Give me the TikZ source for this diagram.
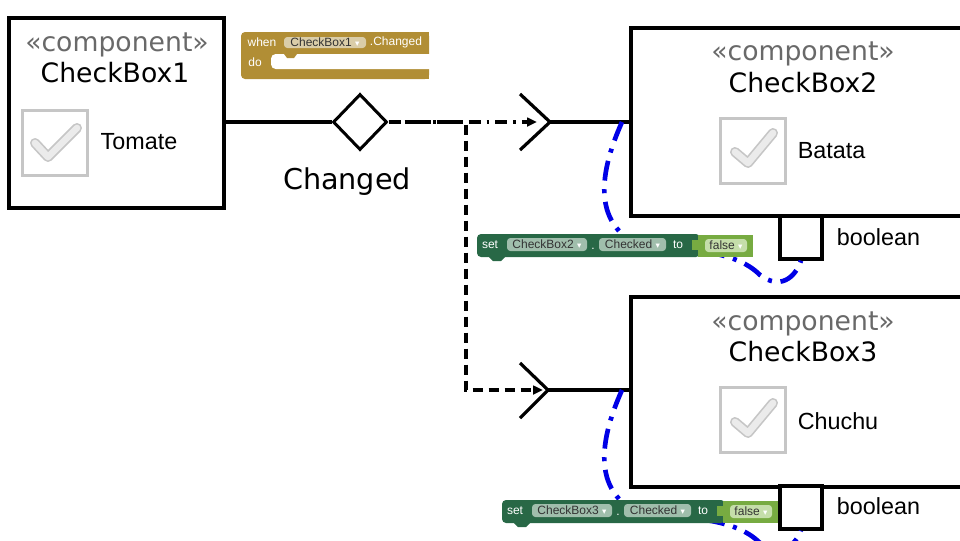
\documentclass[tikz,border=0pt]{standalone}
\usepackage{fontspec}
\setmainfont{Liberation Sans}
\newfontfamily\umlfont{DejaVu Sans}
\usetikzlibrary{shapes.geometric,arrows.meta}

\definecolor{stereogray}{RGB}{105,105,105}
\definecolor{evtcol}{RGB}{177,142,53}
\definecolor{evtfld}{RGB}{218,205,168}
\definecolor{setcol}{RGB}{40,104,70}
\definecolor{setfld}{RGB}{160,190,172}
\definecolor{logcol}{RGB}{119,171,65}
\definecolor{logfld}{RGB}{197,222,170}
\definecolor{flowblue}{RGB}{0,0,230}

\newcommand{\dropmark}{{\umlfont\fontsize{6.5}{6.5}\selectfont\color{white}▾}}

\tikzset{every picture/.style={line width=0.75pt},
  compbox/.style={draw, fill=white, line width=2.5pt, inner sep=0pt},
  portbox/.style={draw, fill=white, line width=2.5pt, minimum width=31.5pt, minimum height=32.25pt, inner sep=0pt},
  stereo/.style={text=stereogray, font=\umlfont\fontsize{20}{24}\selectfont},
  compname/.style={font=\umlfont\fontsize{20}{24}\selectfont},
  evtlabel/.style={font=\umlfont\fontsize{21.5}{26}\selectfont},
  caption/.style={font=\fontsize{17.5}{21}\selectfont},
  chkbox/.style={draw=gray!45, fill=white, line width=2.25pt, minimum size=48.75pt, inner sep=0pt},
  tickouter/.style={draw=gray!45, line width=7.5pt, line cap=round, line join=round},
  tickinner/.style={draw=gray!16, line width=5pt, line cap=round, line join=round},
  eventnode/.style={draw, diamond, fill=white, line width=2.25pt, minimum width=40.5pt, minimum height=42pt, inner sep=0pt},
  link/.style={line width=2.4pt},
  plug/.style={line width=2.4pt, line join=miter},
  dashdotline/.style={line width=2.4pt, dash pattern=on 9pt off 4.5pt on 2pt off 4.5pt, -{Triangle[length=7.5pt,width=6.5pt]}},
  dashline/.style={line width=2.4pt, dash pattern=on 7.5pt off 4.5pt, -{Triangle[length=7.5pt,width=6.5pt]}},
  setflow/.style={draw=flowblue, line width=3.5pt, dash pattern=on 15pt off 6.5pt on 3pt off 6.5pt},
  blocktext/.style={text=white, font=\fontsize{9}{10}\selectfont, inner sep=0pt},
  fld/.style={rounded corners=2.5pt, inner sep=0pt, minimum height=9.75pt, text=black!80, font=\fontsize{9}{10}\selectfont}
}

\begin{document}
\begin{tikzpicture}[x=0.75pt,y=0.75pt,yscale=-1,xscale=1]
	\useasboundingbox (0,0) rectangle (960,540);

	% Components
	\node[compbox, minimum width=161.25pt, minimum height=142.5pt] (cb1) at (116.5,113) {};
	\node[compbox, minimum width=277.5pt, minimum height=141pt] (cb2) at (816,122) {};
	\node[compbox, minimum width=277.5pt, minimum height=142.5pt] (cb3) at (816,392) {};
	% Ports
	\node[portbox] (p2) at (801,237.5) {};
	\node[portbox] (p3) at (801,507.5) {};

	% Text Node
	\node[stereo] (st1) at (117,44.5) {«component»};
	\node[compname] (nm1) at (115,72.5) {CheckBox1};
	\node[caption] (lb1) at (139,141.5) {Tomate};
	\node[stereo] (st2) at (803,54) {«component»};
	\node[compname] (nm2) at (803,82.5) {CheckBox2};
	\node[caption] (lb2) at (831.5,151) {Batata};
	\node[stereo] (st3) at (803,323.5) {«component»};
	\node[compname] (nm3) at (803,351.5) {CheckBox3};
	\node[caption] (lb3) at (838,421) {Chuchu};
	\node[caption] (bl2) at (878.5,237) {boolean};
	\node[caption] (bl3) at (878.5,506.5) {boolean};

	% Check box icons
	\node[chkbox] (ck1) at (54.5,142.5) {};
	\draw[tickouter] (35,143) -- (48,157) -- (77,128);
	\draw[tickinner] (35,143) -- (48,157) -- (77,128);
	\node[chkbox] (ck2) at (753,150.5) {};
	\draw[tickouter] (735,152) -- (748,163) -- (773,133);
	\draw[tickinner] (735,152) -- (748,163) -- (773,133);
	\node[chkbox] (ck3) at (753,420) {};
	\draw[tickouter] (735,422) -- (748,433) -- (773,403);
	\draw[tickinner] (735,422) -- (748,433) -- (773,403);

	% Event
	\node[eventnode] (chg) at (360,122) {};
	\node[evtlabel] (chgl) at (347,182) {Changed};
	\draw[link] (chg.west -| cb1.east) -- (chg.west);

	% Required interfaces
	\coordinate (v2) at (550,122);
	\coordinate (v3) at (548,390);
	\draw[plug] (520,94) -- (v2) -- (520,150);
	\draw[plug] (520,363) -- (v3) -- (520,418);
	\draw[link] (v2) -- (v2 -| cb2.west);
	\draw[link] (v3) -- (v3 -| cb3.west);

	% Flows
	\coordinate (fork) at (466,122);
	\coordinate (a2) at (537,122);
	\coordinate (a3) at (543,390);
	\draw[dashdotline] (chg.east) -- (a2);
	\draw[dashline] (chg.east) -- (fork) |- (a3);

	% Setter arcs
	\coordinate (s2) at (622,122);
	\coordinate (s3) at (622,390);
	\draw[setflow] (s2) .. controls (596,180) and (596,225) .. (640,246) .. controls (690,250) and (735,250) .. (760,275) .. controls (780,290) and (795,278) .. (p2.south);
	\draw[setflow] (s3) .. controls (596,448) and (596,493) .. (640,514) .. controls (690,518) and (735,518) .. (760,543) .. controls (780,558) and (795,546) .. (p3.south);

	% Block: when
	\fill[evtcol, rounded corners=3pt] (241,32) rectangle (429,79);
	\fill[evtcol] (420,32) rectangle (429,79);
	\fill[white, rounded corners=3.5pt] (271,54) rectangle (436,69);
	\fill[evtcol] (284,54) -- (287,58) -- (294,58) -- (297,54) -- cycle;
	\node[blocktext] (wh) at (262,42) {when};
	\node[fld, fill=evtfld, minimum width=61.5pt, minimum height=8.25pt] (wf) at (325,42.5) {CheckBox1 \dropmark};
	\node[blocktext] (wc) at (396,42) {.Changed};
	\node[blocktext] (wd) at (255,62) {do};

	% Block: set CheckBox2
	\fill[setcol, rounded corners=3pt] (477,234) rectangle (700,257);
	\fill[setcol] (489,257) -- (493,261) -- (501,261) -- (505,257) -- cycle;
	\fill[logcol] (698,235) rectangle (753,257);
	\fill[logcol] (692,240) rectangle (699,250);
	\node[blocktext] (ss2) at (490,245) {set};
	\node[fld, fill=setfld, minimum width=60pt] (sf2) at (547,244.5) {CheckBox2 \dropmark};
	\node[blocktext] (sd2) at (593,249) {.};
	\node[fld, fill=setfld, minimum width=50.25pt] (sp2) at (632.5,244.5) {Checked \dropmark};
	\node[blocktext] (st2b) at (678,245) {to};
	\node[fld, fill=logfld, minimum width=31.5pt] (sv2) at (726,245.5) {false \dropmark};

	% Block: set CheckBox3
	\fill[setcol, rounded corners=3pt] (502,500) rectangle (725,523);
	\fill[setcol] (514,523) -- (518,527) -- (526,527) -- (530,523) -- cycle;
	\fill[logcol] (723,501) rectangle (778,523);
	\fill[logcol] (717,506) rectangle (724,516);
	\node[blocktext] (ss3) at (515,511) {set};
	\node[fld, fill=setfld, minimum width=60pt] (sf3) at (572,510.5) {CheckBox3 \dropmark};
	\node[blocktext] (sd3) at (618,515) {.};
	\node[fld, fill=setfld, minimum width=50.25pt] (sp3) at (657.5,510.5) {Checked \dropmark};
	\node[blocktext] (st3b) at (703,511) {to};
	\node[fld, fill=logfld, minimum width=31.5pt] (sv3) at (751,511.5) {false \dropmark};

\end{tikzpicture}
\end{document}
